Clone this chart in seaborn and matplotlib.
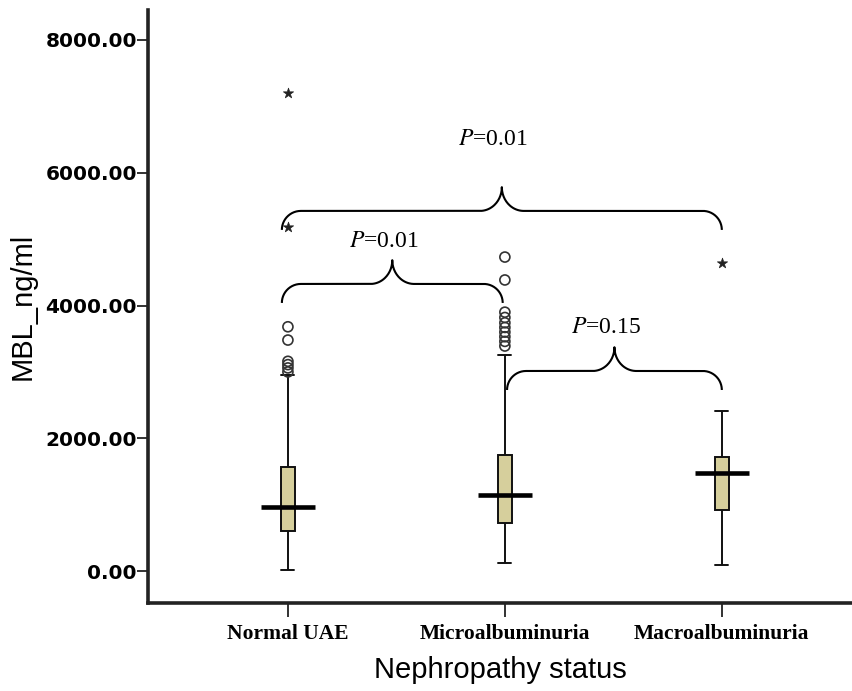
import numpy as np
import pandas as pd
import matplotlib
matplotlib.use('Agg')
import matplotlib.pyplot as plt
import seaborn as sns

sns.set_style('ticks')
plt.rcParams.update({'mathtext.fontset': 'stix', 'text.color': 'black',
                     'axes.labelcolor': 'black', 'xtick.color': 'black',
                     'ytick.color': 'black'})

# ── data ──────────────────────────────────────────────────
groups    = ['Normal UAE', 'Microalbuminuria', 'Macroalbuminuria']
whis_low  = [15, 120, 90]
q1        = [600, 723, 919]
medians   = [965, 1145, 1477]
q3        = [1567, 1748, 1718]
whis_high = [2955, 3255, 2411]

circ_grp  = ['Normal UAE'] * 6 + ['Microalbuminuria'] * 10
circ_val  = [3000, 3060, 3110, 3160, 3480, 3680,
             3390, 3460, 3530, 3600, 3670, 3740, 3820, 3900, 4385, 4730]
star_grp  = ['Normal UAE', 'Normal UAE', 'Macroalbuminuria']
star_val  = [7200, 5180, 4640]

pairs     = [(0, 2), (0, 1), (1, 2)]
brace_y   = [5139, 4039, 2728]
p_labels  = ['0.01', '0.01', '0.15']
p_label_y = [6495, 4958, 3662]
yticks    = [0, 2000, 4000, 6000, 8000]

BOX_COLOR = '#D6CF9C'

# five-number summary per group -> seaborn box with whiskers at min/max
box_df = pd.DataFrame({
    'group': np.repeat(groups, 5),
    'MBL': np.ravel(np.column_stack([whis_low, q1, medians, q3, whis_high])),
})
pos = {g: i for i, g in enumerate(groups)}
circ_df = pd.DataFrame({'x': [pos[g] for g in circ_grp], 'MBL': circ_val})
star_df = pd.DataFrame({'x': [pos[g] for g in star_grp], 'MBL': star_val})

fig = plt.figure(figsize=(8.52, 6.91), dpi=100)
ax = fig.add_axes([0.1737, 0.1274, 0.8263, 0.858])

sns.boxplot(data=box_df, x='group', y='MBL', order=groups, ax=ax,
            width=0.065, whis=(0, 100), color=BOX_COLOR, linecolor='#111111',
            linewidth=1.4, showfliers=False, saturation=1,
            medianprops=dict(visible=False), capwidths=0.06)
# wide SPSS-style median bars
sns.boxplot(data=box_df, x='group', y='MBL', order=groups, ax=ax,
            width=0.25, whis=(0, 100), showbox=False, showcaps=False,
            showfliers=False, whiskerprops=dict(visible=False),
            medianprops=dict(color='black', linewidth=3.3, solid_capstyle='butt'))

sns.scatterplot(data=circ_df, x='x', y='MBL', ax=ax, marker='o', s=52,
                facecolors='none', edgecolor='#333333', linewidth=1.2,
                legend=False, zorder=5)
sns.scatterplot(data=star_df, x='x', y='MBL', ax=ax, marker='*', s=60,
                color='#222222', edgecolor='#222222', linewidth=0.5,
                legend=False, zorder=5)

ax.set_xlim(-0.645, 2.6)
ax.set_ylim(-480, 8450)


# ── curly braces with P values ────────────────────────────
def arc(cx, cy, rx, ry, a0, a1):
    t = np.radians(np.linspace(a0, a1, 40))
    return cx + rx * np.cos(t), cy + ry * np.sin(t)


def draw_brace(ax, x0, x1, y0, r_px=19):
    # radius in pixels -> data units on each axis
    px_x = (ax.get_xlim()[1] - ax.get_xlim()[0]) / (ax.bbox.width)
    px_y = (ax.get_ylim()[1] - ax.get_ylim()[0]) / (ax.bbox.height)
    rx, ry = r_px * px_x, r_px * px_y
    rx2, ry2 = 1.15 * rx, 1.25 * ry
    xm = (x0 + x1) / 2
    parts = [
        arc(x0 + rx, y0, rx, ry, 180, 90),
        arc(xm - rx2, y0 + ry + ry2, rx2, ry2, -90, 0),
        arc(xm + rx2, y0 + ry + ry2, rx2, ry2, 180, 270),
        arc(x1 - rx, y0, rx, ry, 90, 0),
    ]
    xs = np.concatenate([p[0] for p in parts])
    ys = np.concatenate([p[1] for p in parts])
    ax.plot(xs, ys, color='black', linewidth=1.5, zorder=4,
            solid_capstyle='butt')
    return xm


for (a, b), yb, lab, ly in zip(pairs, brace_y, p_labels, p_label_y):
    x0 = a - 0.028 if a == 0 else a + 0.01
    x1 = b - 0.01 if (a, b) == (0, 1) else b
    xm = draw_brace(ax, x0, x1, yb)
    ax.text(xm - 0.04, ly, '$\\it{P}$=' + lab, ha='center', va='center',
            fontsize=17, family='Liberation Serif')

ax.set_yticks(yticks)
ax.set_yticklabels([f'{v:.2f}' for v in yticks], fontsize=14.5,
                   fontweight='bold', family='DejaVu Sans')
ax.set_xticks(range(len(groups)))
ax.set_xticklabels(groups, fontsize=15.5, fontweight='bold',
                   family='Liberation Serif')
ax.set_ylabel('MBL_ng/ml', fontsize=21, family='Liberation Sans', labelpad=6)
ax.set_xlabel('Nephropathy status', fontsize=21, family='Liberation Sans',
              labelpad=9)

for side in ['top', 'right']:
    ax.spines[side].set_visible(False)
for side in ['left', 'bottom']:
    ax.spines[side].set_linewidth(2.6)
    ax.spines[side].set_color('#222222')
ax.tick_params(axis='y', direction='out', length=8, width=1.3, color='#222222', pad=0)
ax.tick_params(axis='x', direction='out', length=10, width=1.3, color='#222222', pad=5)

fig.savefig('out.png', dpi=100)
